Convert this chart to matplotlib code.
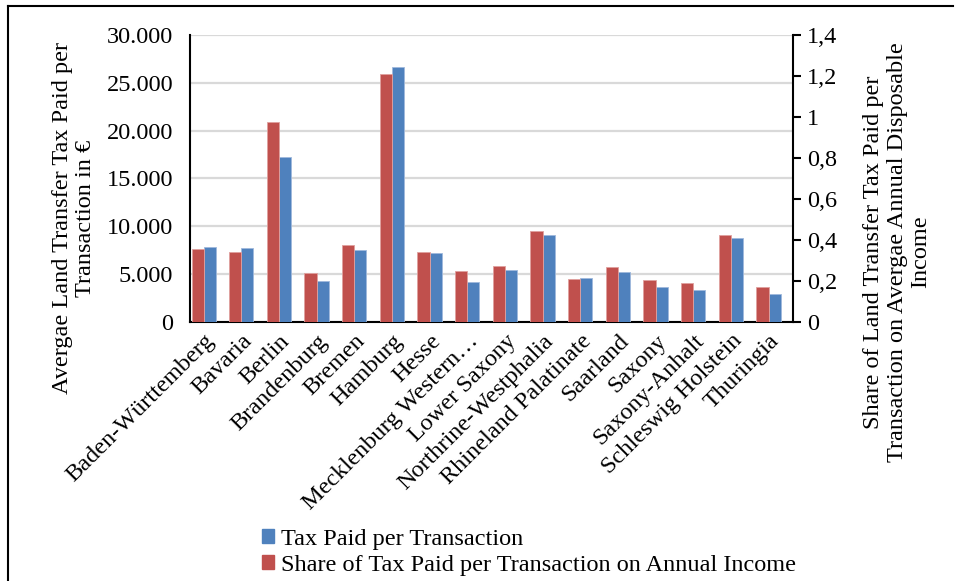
import matplotlib
matplotlib.use("Agg")
import matplotlib.pyplot as plt
from matplotlib.lines import Line2D
from matplotlib.ticker import FuncFormatter, MultipleLocator
import numpy as np

states = ["Baden-Württemberg", "Bavaria", "Berlin", "Brandenburg", "Bremen",
          "Hamburg", "Hesse", "Mecklenburg Western…", "Lower Saxony",
          "Northrine-Westphalia", "Rhineland Palatinate", "Saarland", "Saxony",
          "Saxony-Anhalt", "Schleswig Holstein", "Thuringia"]
# average land transfer tax paid per transaction, EUR
tax_paid = [7890, 7780, 17200, 4330, 7570, 26620, 7220, 4220, 5440,
            9140, 4570, 5230, 3660, 3320, 8790, 2970]
# share of that tax on average annual disposable income
share_income = [0.358, 0.340, 0.975, 0.238, 0.374, 1.211, 0.340, 0.249, 0.275,
                0.446, 0.210, 0.270, 0.207, 0.189, 0.422, 0.171]

BLUE = "#4F81BD"
RED = "#C0504D"
FS = 17.5

plt.rcParams["font.family"] = ["Liberation Serif", "DejaVu Serif"]

fig = plt.figure(figsize=(9.56, 5.81), dpi=100)
ax = fig.add_axes([190 / 956, 1 - 322 / 581, 603 / 956, 287 / 581])
ax2 = ax.twinx()

x = np.arange(len(states))
w = 0.32
ax.bar(x + w / 2, tax_paid, w, color=BLUE, edgecolor="#9fb9dc", lw=0.6, zorder=3)
ax2.bar(x - w / 2, share_income, w, color=RED, edgecolor="#e0a09e", lw=0.6, zorder=3)

ax.set_xlim(-0.36, 15.65)
ax.set_ylim(0, 30000)
ax2.set_ylim(0, 1.4)
ax.yaxis.set_major_locator(MultipleLocator(5000))
ax2.yaxis.set_major_locator(MultipleLocator(0.2))
ax.yaxis.set_major_formatter(FuncFormatter(lambda v, p: f"{v:,.0f}".replace(",", ".")))
ax2.yaxis.set_major_formatter(FuncFormatter(
    lambda v, p: ("%g" % round(v, 1)).replace(".", ",")))

ax.grid(axis="y", color="#d9d9d9", lw=1.6, zorder=0)
ax.set_axisbelow(True)

for a in (ax, ax2):
    a.spines["top"].set_visible(False)
    a.tick_params(labelsize=FS)
ax.spines["right"].set_visible(False)
ax2.spines["left"].set_visible(False)
ax2.spines["right"].set_linewidth(1.5)
ax.spines["left"].set_linewidth(1.5)
ax.spines["bottom"].set_linewidth(1.5)
ax2.spines["bottom"].set_visible(False)
ax.tick_params(axis="y", length=0, pad=12)
ax2.tick_params(axis="y", length=6, width=1.5, pad=4)
ax.set_xticks(x + 0.01)
ax.set_xticklabels(states, rotation=45, ha="right", rotation_mode="anchor",
                   fontsize=FS)
ax.tick_params(axis="x", length=0, pad=6)

fig.text(74 / 956, 1 - 218 / 581,
         "Avergae Land Transfer Tax Paid per\nTransaction in €",
         rotation=90, ha="center", va="center", fontsize=FS,
         multialignment="center", linespacing=1.1)
fig.text(897 / 956, 1 - 252 / 581,
         "Share of Land Transfer Tax Paid per\n"
         "Transaction on Avergae Annual Disposable\nIncome",
         rotation=90, ha="center", va="center", fontsize=FS,
         multialignment="center", linespacing=1.15)

# legend below the plot
handles = [plt.Rectangle((0, 0), 1, 1, color=BLUE),
           plt.Rectangle((0, 0), 1, 1, color=RED)]
fig.legend(handles, ["Tax Paid per Transaction",
                     "Share of Tax Paid per Transaction on Annual Income"],
           loc="upper left", bbox_to_anchor=(262 / 956, 1 - 529 / 581),
           frameon=False, fontsize=FS, handlelength=0.5, handleheight=0.5,
           handletextpad=0.3, labelspacing=0.2, borderaxespad=0, borderpad=0)

# outer frame lines
fig.add_artist(Line2D([8 / 956, 8 / 956], [0, 1 - 6 / 581], color="black", lw=1.5))
fig.add_artist(Line2D([8 / 956, 953 / 956], [1 - 6 / 581, 1 - 6 / 581],
                      color="black", lw=1.5))

fig.savefig("out.png", dpi=100)
